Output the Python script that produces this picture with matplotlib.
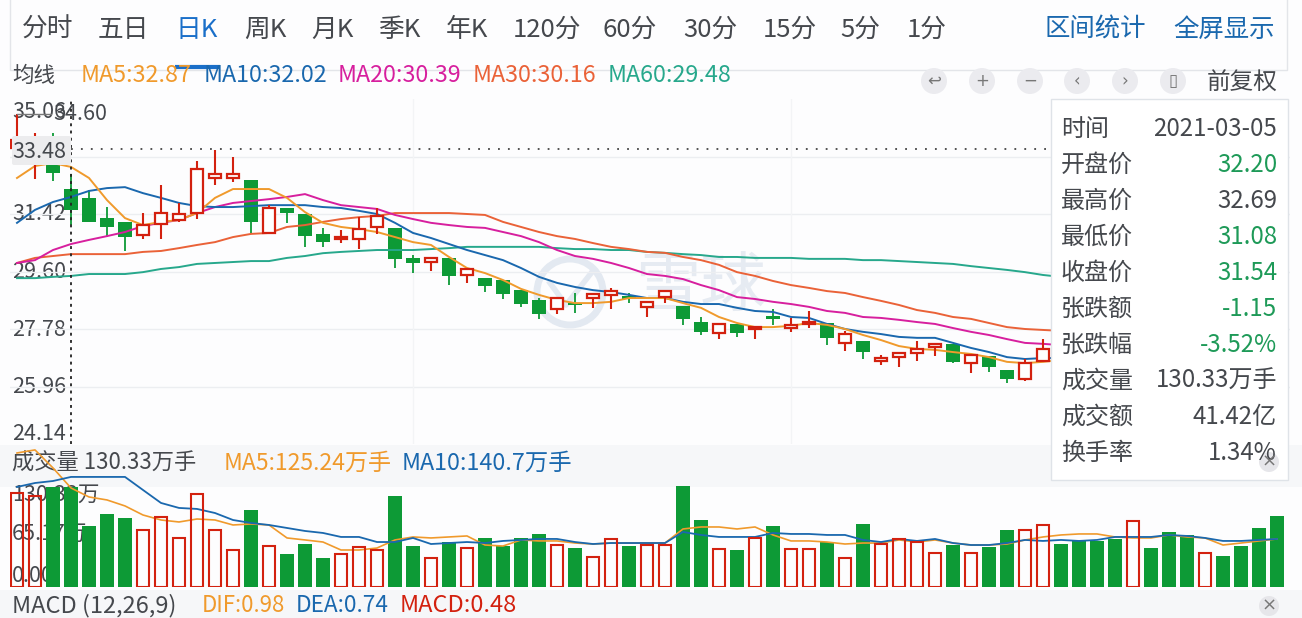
import matplotlib
matplotlib.use("Agg")
import matplotlib.pyplot as plt
import numpy as np
from matplotlib.patches import Circle, FancyBboxPatch, Rectangle

plt.rcParams['font.family'] = ['Noto Sans CJK SC', 'DejaVu Sans']

# daily candles, 2021-03-05 is the one under the crosshair
opens = [33.51,33.20,33.10,32.20,31.93,31.29,31.17,30.76,31.10,31.23,31.45,32.56,32.56,32.50,30.82,31.61,31.42,30.79,30.63,30.63,
         31.01,30.98,30.03,29.90,30.03,29.49,29.39,29.33,29.01,28.70,28.41,28.60,28.76,28.86,28.83,28.48,28.79,28.51,28.00,27.65,
         27.94,27.78,28.19,27.81,27.94,27.97,27.34,27.40,26.77,26.89,27.02,27.21,27.31,26.70,26.93,26.48,26.20,26.77]
closes = [33.76,33.50,32.72,31.54,31.17,31.01,30.69,31.07,31.45,31.42,32.84,32.69,32.69,31.17,31.61,31.45,30.72,30.53,30.69,30.94,
          31.36,30.00,29.87,30.03,29.46,29.68,29.14,28.89,28.57,28.26,28.76,28.54,28.89,28.98,28.73,28.64,28.98,28.10,27.69,27.94,
          27.65,27.84,28.10,27.91,28.00,27.50,27.62,27.05,26.86,27.02,27.15,27.31,26.74,26.96,26.58,26.20,26.70,27.15]
highs = [34.60,33.98,33.98,32.69,32.18,31.64,31.17,31.45,32.34,31.77,33.10,33.45,33.22,32.50,31.70,31.61,31.42,30.98,30.91,31.32,
         31.61,30.98,30.12,30.03,30.03,29.68,29.39,29.33,29.01,28.76,28.76,28.92,28.89,29.08,28.92,28.64,28.98,28.51,28.16,27.94,
         27.94,27.84,28.41,28.13,28.35,27.97,27.72,27.40,26.96,27.02,27.40,27.31,27.31,26.96,26.93,26.48,26.83,27.46]
lows = [33.20,32.53,32.46,31.08,31.17,30.69,30.25,30.63,30.63,31.17,31.26,32.34,32.43,30.82,30.82,31.14,30.38,30.38,30.50,30.31,
        30.79,29.71,29.55,29.62,29.17,29.24,28.95,28.73,28.48,28.10,28.26,28.29,28.45,28.41,28.60,28.16,28.60,27.91,27.59,27.46,
        27.53,27.46,27.91,27.69,27.81,27.27,27.08,26.83,26.64,26.58,26.77,26.93,26.70,26.39,26.42,26.07,26.14,26.74]

ma5 = [32.56,32.94,33.03,32.91,32.56,31.86,31.29,31.07,31.17,31.23,31.45,31.93,32.21,32.21,32.21,31.93,31.48,31.14,31.01,30.94,
       30.85,30.69,30.53,30.44,30.06,29.71,29.55,29.33,29.05,28.86,28.70,28.60,28.60,28.64,28.76,28.76,28.76,28.60,28.45,28.16,
       27.97,27.84,27.84,27.88,27.97,27.91,27.78,27.59,27.43,27.24,27.15,27.12,27.05,26.99,26.89,26.74,26.70,26.74,26.80]
ma10 = [31.14,31.55,31.80,31.96,32.15,32.24,32.27,32.08,31.93,31.77,31.67,31.64,31.64,31.67,31.70,31.70,31.70,31.64,31.61,31.52,
        31.42,31.14,30.82,30.66,30.47,30.28,30.12,29.96,29.71,29.43,29.24,29.11,29.01,28.95,28.86,28.76,28.76,28.64,28.57,28.57,
        28.45,28.35,28.32,28.16,28.13,27.94,27.78,27.69,27.62,27.53,27.50,27.50,27.34,27.18,27.05,26.89,26.83,26.86,26.86]
ma20 = [29.87,29.96,30.28,30.47,30.60,30.72,30.85,31.04,31.14,31.23,31.45,31.64,31.77,31.83,31.89,31.96,32.05,31.86,31.70,31.64,
        31.58,31.39,31.26,31.14,31.07,31.01,30.98,30.85,30.72,30.53,30.28,30.09,30.00,29.87,29.71,29.52,29.46,29.36,29.17,29.01,
        28.79,28.73,28.64,28.57,28.48,28.35,28.29,28.16,28.13,28.07,28.00,27.94,27.81,27.69,27.59,27.46,27.34,27.31,27.27]
ma30 = [29.87,30.03,30.09,30.15,30.15,30.15,30.15,30.22,30.25,30.34,30.44,30.53,30.69,30.79,30.82,31.01,31.07,31.17,31.26,31.32,
        31.36,31.45,31.45,31.45,31.45,31.42,31.39,31.17,31.01,30.85,30.72,30.63,30.50,30.38,30.31,30.22,30.19,30.06,29.96,29.81,
        29.58,29.46,29.30,29.17,29.08,28.98,28.92,28.79,28.67,28.54,28.38,28.29,28.16,28.10,27.97,27.84,27.78,27.75,27.72]
ma60 = [29.39,29.39,29.43,29.46,29.52,29.52,29.52,29.58,29.68,29.74,29.84,29.87,29.90,29.93,29.93,30.03,30.09,30.18,30.22,30.25,
        30.28,30.28,30.28,30.31,30.34,30.38,30.38,30.38,30.38,30.38,30.34,30.31,30.31,30.28,30.28,30.22,30.19,30.15,30.12,30.06,
        30.06,30.03,30.03,30.03,30.00,30.00,30.00,29.96,29.96,29.93,29.90,29.87,29.84,29.77,29.71,29.65,29.58,29.49,29.43]

# volume in 万手
volume = [122.5,118.6,130.3,130.33,79.5,95.1,89.9,74.3,91.2,63.9,121.2,74.3,48.2,100.4,53.4,43.0,56.0,37.8,43.0,52.1,
          48.2,118.6,53.4,37.8,58.6,50.8,63.9,53.4,63.9,69.1,54.7,50.8,39.1,62.6,53.4,54.7,54.7,131.6,87.3,49.5,
          48.2,63.9,79.5,49.5,49.5,58.6,37.8,82.1,56.0,62.6,58.6,44.3,54.7,44.3,52.1,74.3,74.3,80.8,56.0,60.0,
          60.0,62.6,86.0,50.8,71.7,67.8,44.3,40.4,53.4,76.9,92.5]
vol_up_days = [0,1,7,8,9,10,11,12,14,18,19,20,23,25,30,32,33,35,36,39,41,43,44,46,48,49,50,51,53,56,57,62,66]
vol_ma5 = [174.6,178.6,155.1,129.0,117.3,113.4,105.6,93.8,87.3,84.7,88.6,87.3,80.8,82.1,80.8,63.9,61.3,58.6,48.2,48.2,
           50.8,61.3,65.2,63.9,65.2,66.5,54.7,53.4,61.3,60.0,60.0,57.3,56.0,57.3,57.3,57.3,57.3,75.6,78.2,78.2,
           75.6,78.2,67.8,60.0,60.0,58.6,56.0,57.3,57.3,61.3,58.6,61.3,57.3,54.7,54.7,56.0,61.3,65.2,67.8,69.1,
           69.1,65.2,63.9,63.9,67.8,65.2,63.9,54.7,57.3,60.0,62.6]
vol_ma10 = [130.3,135.5,138.1,143.4,143.4,143.4,143.4,126.4,109.5,103.0,101.7,96.4,87.3,83.4,80.8,76.9,73.0,70.4,65.2,65.2,
            58.6,58.6,63.9,56.0,57.3,58.6,57.3,60.0,61.3,62.6,62.6,58.6,56.0,57.3,57.3,57.3,57.3,71.7,67.8,65.2,
            65.2,65.2,70.4,69.1,69.1,67.8,67.8,61.3,58.6,62.6,60.0,62.6,57.3,54.7,54.7,57.3,61.3,60.0,61.3,60.0,
            61.3,65.2,65.2,65.2,67.8,66.5,63.9,60.0,60.0,61.3,62.6]

price_ticks = ["31.42", "29.60", "27.78", "25.96", "24.14"]
grid_prices = [33.24, 31.42, 29.60, 27.78, 25.96]
tabs = ["分时", "五日", "日K", "周K", "月K", "季K", "年K", "120分", "60分", "30分", "15分", "5分", "1分"]
tab_centers = [48, 123, 197, 265, 332, 399, 467, 547, 630, 710, 790, 860, 927]
info_names = ["时间", "开盘价", "最高价", "最低价", "收盘价", "张跌额", "张跌幅", "成交量", "成交额", "换手率"]
info_values = ["2021-03-05", "32.20", "32.69", "31.08", "31.54", "-1.15", "-3.52%", "130.33万手", "41.42亿", "1.34%"]
info_down = [0, 1, 0, 1, 1, 1, 1, 0, 0, 0]

RED = "#d3210f"
GREEN = "#0d9a36"
C_MA5 = "#f09a2c"
C_MA10 = "#1a68ae"
C_MA20 = "#d71f9e"
C_MA30 = "#ea6238"
C_MA60 = "#27a88c"
DARK = "#45484d"
W, H = 1302, 618

fig = plt.figure(figsize=(W / 100, H / 100), dpi=100, facecolor="#fdfdfe")


def px_axes(left, top, right, bottom, zorder):
    ax = fig.add_axes([left / W, 1 - bottom / H, (right - left) / W, (bottom - top) / H], zorder=zorder)
    ax.axis("off")
    ax.patch.set_visible(False)
    return ax


# background layer, everything that sits under the marks
bg = px_axes(0, 0, W, H, 0)
bg.set_xlim(0, W)
bg.set_ylim(H, 0)
bg.add_patch(Rectangle((0, 445), W, 42, fc="#f6f7f9", ec="none"))
bg.add_patch(Rectangle((0, 590), W, 28, fc="#f6f7f9", ec="none"))
bg.plot([10, 10, 1287, 1287], [0, 70, 70, 0], color="#e3e5e9", lw=1)
bg.plot([175, 220], [67, 67], color="#1a6fc9", lw=3, solid_capstyle="butt")
for name, cx in zip(tabs, tab_centers):
    bg.text(cx, 30, name, ha="center", va="center", fontsize=18.5, color="#1a6fc9" if name == "日K" else DARK)
bg.text(1095, 30, "区间统计", ha="center", va="center", fontsize=18.3, color="#1a68ae")
bg.text(1224, 30, "全屏显示", ha="center", va="center", fontsize=18.3, color="#1a68ae")

bg.text(12, 76, "均线", va="center", fontsize=15.5, color=DARK)
ma_labels = [("MA5:32.87", 81, C_MA5), ("MA10:32.02", 204, C_MA10), ("MA20:30.39", 338, C_MA20),
             ("MA30:30.16", 473, C_MA30), ("MA60:29.48", 608, C_MA60)]
for s, x, c in ma_labels:
    bg.text(x, 76, s, va="center", fontsize=16.8, color=c)

# watermark
bg.add_patch(Circle((570, 292), 33, fill=False, ec="#e3e9f1", lw=5))
bg.plot([550, 566, 592], [283, 305, 272], color="#e3e9f1", lw=4)
bg.text(700, 289, "雪球", ha="center", va="center", fontsize=47, color="#e6ebf2")

# axis labels
bg.text(12, 112, "35.06", va="center", fontsize=15.5, color=DARK)
bg.text(53, 114, "34.60", va="center", fontsize=15.5, color=DARK)
for s, y in zip(price_ticks, [214, 272, 330, 387, 434]):
    bg.text(12, y, s, va="center", fontsize=15.5, color=DARK)
bg.text(12, 463, "成交量 130.33万手", va="center", fontsize=16, color=DARK)
bg.text(224, 463, "MA5:125.24万手", va="center", fontsize=16.6, color=C_MA5)
bg.text(402, 463, "MA10:140.7万手", va="center", fontsize=16.8, color=C_MA10)
bg.text(12, 495, "130.33万", va="center", fontsize=15.5, color=DARK)
bg.text(12, 534, "65.17万", va="center", fontsize=15.5, color=DARK)
bg.text(12, 576, "0.00", va="center", fontsize=15.5, color=DARK)
bg.text(12, 606, "MACD (12,26,9)", va="center", fontsize=17, color=DARK)
bg.text(202, 606, "DIF:0.98", va="center", fontsize=16, color=C_MA5)
bg.text(296, 606, "DEA:0.74", va="center", fontsize=16.3, color=C_MA10)
bg.text(400, 606, "MACD:0.48", va="center", fontsize=17, color=RED)

# candles and moving averages, 18px per day with day 0 at x=17
xlim = ((10 - 17) / 18, (1290 - 17) / 18)
ax = px_axes(10, 99, 1290, 444, 2)
ax.set_xlim(*xlim)
ax.set_ylim(24.14, 35.06)
for p in grid_prices:
    ax.axhline(p, color="#eceef1", lw=1, zorder=1)
for day in [22, 43]:
    ax.axvline(day, color="#f3f4f6", lw=1, zorder=1)

o, c, hi, lo = map(np.array, (opens, closes, highs, lows))
days = np.arange(len(o))
up = c >= o
ax.vlines(days[~up], lo[~up], hi[~up], color=GREEN, lw=1.3, zorder=2)
ax.bar(days[~up], (o - c)[~up], bottom=c[~up], width=0.76, color=GREEN, zorder=2.1)
for s, col in zip([ma60, ma30, ma20, ma10, ma5], [C_MA60, C_MA30, C_MA20, C_MA10, C_MA5]):
    ax.plot(np.arange(len(s)), s, color=col, lw=1.4, zorder=3)
ax.vlines(days[up], lo[up], hi[up], color=RED, lw=1.5, zorder=4)
ax.bar(days[up], (c - o)[up], bottom=o[up], width=0.68, fc="white", ec=RED, lw=1.6, zorder=4.1)
# crosshair and the leader from the highest price
ax.plot([3, 57.7], [33.48, 33.48], color="#444444", lw=1.3, dashes=(1, 4.5), zorder=5)
ax.plot([3, 3], [24.14, 35.06], color="#222222", lw=1.3, dashes=(1.6, 2.4), zorder=5)
ax.plot([0, 1.9], [34.60, 34.60], color="#777777", lw=1, zorder=5)

# volume
vx = px_axes(10, 445, 1290, 587, 3)
vx.set_xlim(*xlim)
vx.set_ylim(0, 185)
vol = np.array(volume)
vol_days = np.arange(len(vol))
vol_up = np.isin(vol_days, vol_up_days)
vx.bar(vol_days[~vol_up], vol[~vol_up], width=0.78, color=GREEN, zorder=2)
vx.plot(vol_days, vol_ma5, color=C_MA5, lw=1.2, zorder=3)
vx.plot(vol_days, vol_ma10, color=C_MA10, lw=1.3, zorder=3)
vx.bar(vol_days[vol_up], vol[vol_up], width=0.68, fc="none", ec=RED, lw=1.5, zorder=4)

# top layer: price box, tooltip and buttons
top = px_axes(0, 0, W, H, 5)
top.set_xlim(0, W)
top.set_ylim(H, 0)
top.add_patch(FancyBboxPatch((12, 136), 59, 29, boxstyle="round,pad=0,rounding_size=2", fc="#ececee", ec="none"))
top.text(12, 152, "33.48", va="center", fontsize=15.5, color=DARK)

top.add_patch(Rectangle((1051, 99), 237, 381, fc="white", ec="#dfe3e8", lw=1))
for i, (name, val, down) in enumerate(zip(info_names, info_values, info_down)):
    y = 129 + 36 * i
    top.text(1061, y, name, va="center", fontsize=17.3, color=DARK)
    top.text(1277, y, val, ha="right", va="center", fontsize=17.3, color="#1e9a58" if down else DARK)

for cx, cy in [(1269, 462), (1269, 606)]:
    top.add_patch(Circle((cx, cy), 10, fc="#e6e6ea", ec="none"))
    top.text(cx, cy, "×", ha="center", va="center", fontsize=13, color="#777777", family="DejaVu Sans")

icons = ["↩", "+", "−", "‹", "›", "▯"]
for glyph, cx in zip(icons, [934, 982, 1030, 1077, 1125, 1173]):
    top.add_patch(Circle((cx, 81), 13, fc="#ebebef", ec="none"))
    top.text(cx, 81, glyph, ha="center", va="center", fontsize=12, color="#777777", family="DejaVu Sans")
top.text(1278, 82, "前复权", ha="right", va="center", fontsize=17, color=DARK)

fig.savefig("out.png", dpi=100, facecolor=fig.get_facecolor())
